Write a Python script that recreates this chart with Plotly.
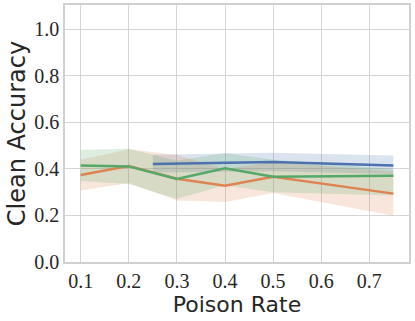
import plotly.graph_objects as go

# poison rates on the x axis
rates = [0.1, 0.2, 0.3, 0.4, 0.5, 0.75]
blue_rates = [0.25, 0.5, 0.75]

blue_mean = [0.421, 0.430, 0.415]
blue_lo = [0.385, 0.390, 0.378]
blue_hi = [0.461, 0.470, 0.458]

orange_mean = [0.374, 0.413, 0.358, 0.328, 0.366, 0.294]
orange_lo = [0.307, 0.340, 0.264, 0.258, 0.297, 0.199]
orange_hi = [0.440, 0.485, 0.460, 0.400, 0.430, 0.390]

green_mean = [0.415, 0.411, 0.357, 0.403, 0.367, 0.371]
green_lo = [0.348, 0.335, 0.272, 0.330, 0.300, 0.286]
green_hi = [0.483, 0.487, 0.435, 0.469, 0.440, 0.400]

xticks = [0.1, 0.2, 0.3, 0.4, 0.5, 0.6, 0.7]
yticks = [0.0, 0.2, 0.4, 0.6, 0.8, 1.0]

series = [
    (blue_rates, blue_mean, blue_lo, blue_hi, "#4C72B0", "rgba(76,114,176,0.2)"),
    (rates, orange_mean, orange_lo, orange_hi, "#DD8452", "rgba(221,132,82,0.2)"),
    (rates, green_mean, green_lo, green_hi, "#55A868", "rgba(85,168,104,0.2)"),
]

fig = go.Figure()
for xs, m, lo, hi, col, fcol in series:
    fig.add_trace(go.Scatter(x=xs + xs[::-1], y=hi + lo[::-1], fill="toself",
                             fillcolor=fcol, line=dict(width=0), mode="lines",
                             hoverinfo="skip", showlegend=False))
for xs, m, lo, hi, col, fcol in series:
    fig.add_trace(go.Scatter(x=xs, y=m, mode="lines", line=dict(color=col, width=2.5),
                             showlegend=False))

tickfont = dict(family="Liberation Serif, serif", size=20, color="#262626")

fig.update_layout(
    width=415, height=321,
    margin=dict(l=65, r=6, t=5, b=59),
    plot_bgcolor="white", paper_bgcolor="white",
)
fig.update_xaxes(range=[0.0674, 0.7825], tickvals=xticks, ticktext=[str(v) for v in xticks],
                 showgrid=True, gridcolor="#d5d5d5", gridwidth=1, zeroline=False,
                 showline=True, linecolor="#d0d0d0", linewidth=1.5, mirror=True,
                 tickfont=tickfont, ticks="", ticklen=0, automargin=False,
                 title=dict(text="Poison Rate", standoff=2,
                            font=dict(family="DejaVu Sans, sans-serif", size=22, color="#262626")))
fig.update_yaxes(range=[0, 1.105], tickvals=yticks, ticktext=["%.1f" % v for v in yticks],
                 showgrid=True, gridcolor="#d5d5d5", gridwidth=1, zeroline=False,
                 showline=True, linecolor="#d0d0d0", linewidth=1.5, mirror=True,
                 tickfont=tickfont, ticks="", ticklen=0, automargin=False,
                 title=dict(text="Clean Accuracy", standoff=2,
                            font=dict(family="DejaVu Sans, sans-serif", size=24, color="#262626")))

# drop the page's default 8px body margin so the figure sits at the corner
fig.write_html("out.html", config={"displayModeBar": False},
               post_script="document.body.style.margin='0';")
